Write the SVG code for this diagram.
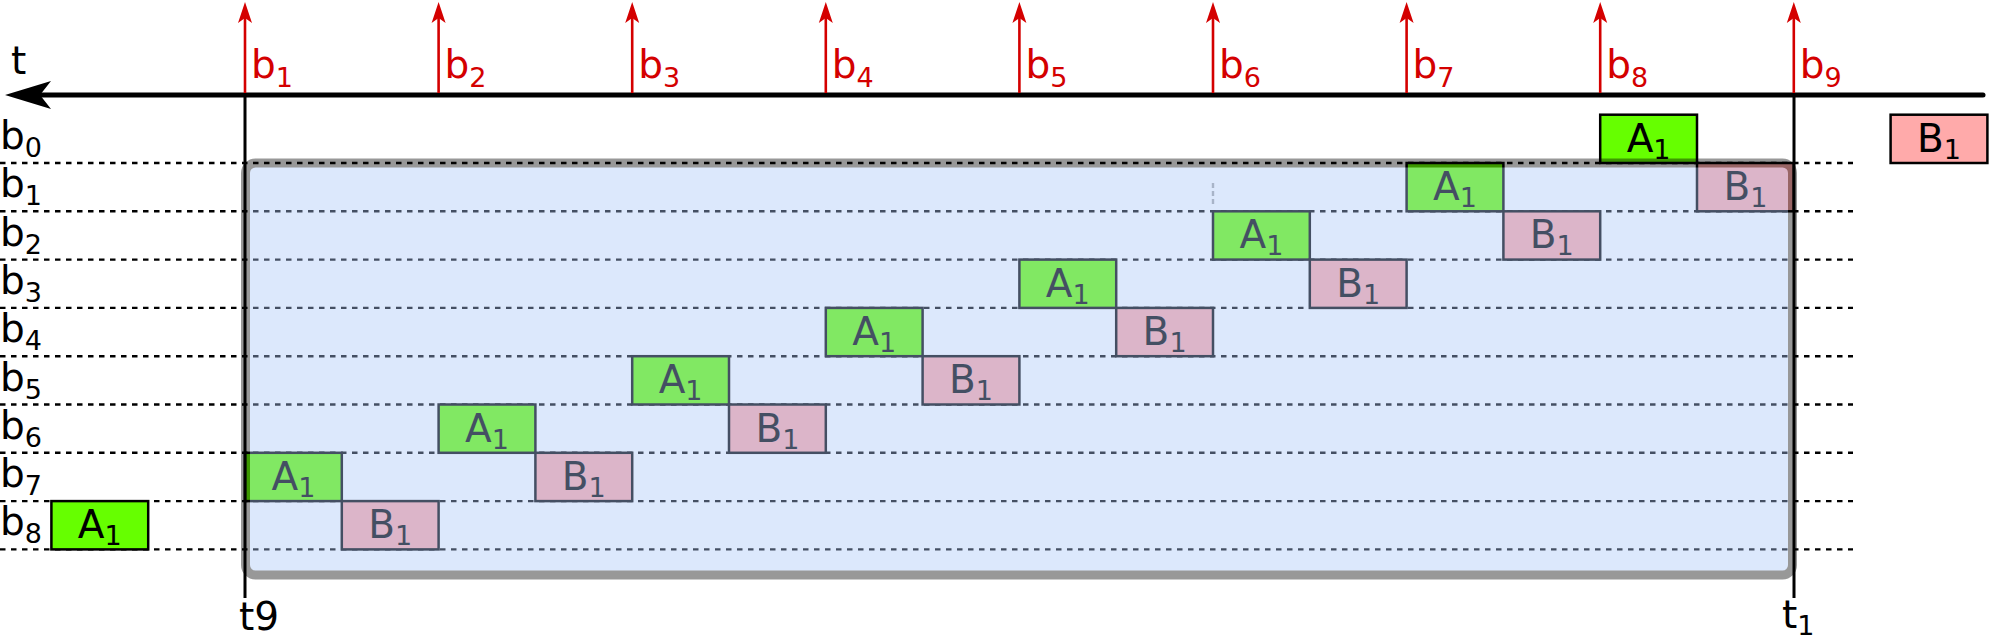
<svg xmlns="http://www.w3.org/2000/svg" width="1993" height="641" viewBox="0 0 1993 641">
<defs>
<style>
text{font-family:"DejaVu Sans","Liberation Sans",sans-serif;font-size:39px;fill:#000}
.sub{font-size:27px}
.red{fill:#d40000}
.grid{stroke:#000;stroke-width:2.4;stroke-dasharray:5.5,5.5;fill:none}
.a{fill:#66ff00;stroke:#000;stroke-width:2.5}
.b{fill:#ffaaaa;stroke:#000;stroke-width:2.5}
.bt{text-anchor:middle}
.tick{stroke:#d40000;stroke-width:2.6;fill:none}
</style>
<marker id="redhead" viewBox="0 0 22 16" refX="11" refY="8" markerWidth="22" markerHeight="16" markerUnits="userSpaceOnUse" orient="auto">
<path d="M21,8 L0,1 L5,8 L0,15 Z" fill="#d40000"/>
</marker>
</defs>
<rect width="1993" height="641" fill="#fff"/>

<g id="grid-lines">
<line class="grid" x1="0" y1="163" x2="1853" y2="163"/>
<line class="grid" x1="0" y1="211.3" x2="1853" y2="211.3"/>
<line class="grid" x1="0" y1="259.6" x2="1853" y2="259.6"/>
<line class="grid" x1="0" y1="307.9" x2="1853" y2="307.9"/>
<line class="grid" x1="0" y1="356.2" x2="1853" y2="356.2"/>
<line class="grid" x1="0" y1="404.5" x2="1853" y2="404.5"/>
<line class="grid" x1="0" y1="452.8" x2="1853" y2="452.8"/>
<line class="grid" x1="0" y1="501.1" x2="1853" y2="501.1"/>
<line class="grid" x1="0" y1="549.4" x2="1853" y2="549.4"/>
<line x1="1213" y1="183" x2="1213" y2="207" stroke="#a8a8a8" stroke-width="2.4" stroke-dasharray="5,3"/>
</g>

<g id="row-labels">
<text x="0" y="149">b<tspan class="sub" dy="8">0</tspan></text>
<text x="0" y="197.3">b<tspan class="sub" dy="8">1</tspan></text>
<text x="0" y="245.6">b<tspan class="sub" dy="8">2</tspan></text>
<text x="0" y="293.9">b<tspan class="sub" dy="8">3</tspan></text>
<text x="0" y="342.2">b<tspan class="sub" dy="8">4</tspan></text>
<text x="0" y="390.5">b<tspan class="sub" dy="8">5</tspan></text>
<text x="0" y="438.8">b<tspan class="sub" dy="8">6</tspan></text>
<text x="0" y="487.1">b<tspan class="sub" dy="8">7</tspan></text>
<text x="0" y="535.4">b<tspan class="sub" dy="8">8</tspan></text>
</g>

<g id="A1-row0"><rect class="a" x="1600.2" y="114.7" width="96.8" height="48.3"/><text class="bt" x="1648.6" y="151.8">A<tspan class="sub" dy="7">1</tspan></text></g>
<g id="A1-row1"><rect class="a" x="1406.6" y="163" width="96.8" height="48.3"/><text class="bt" x="1455" y="200.1">A<tspan class="sub" dy="7">1</tspan></text></g>
<g id="A1-row2"><rect class="a" x="1213" y="211.3" width="96.8" height="48.3"/><text class="bt" x="1261.4" y="248.4">A<tspan class="sub" dy="7">1</tspan></text></g>
<g id="A1-row3"><rect class="a" x="1019.4" y="259.6" width="96.8" height="48.3"/><text class="bt" x="1067.8" y="296.7">A<tspan class="sub" dy="7">1</tspan></text></g>
<g id="A1-row4"><rect class="a" x="825.8" y="307.9" width="96.8" height="48.3"/><text class="bt" x="874.2" y="345">A<tspan class="sub" dy="7">1</tspan></text></g>
<g id="A1-row5"><rect class="a" x="632.2" y="356.2" width="96.8" height="48.3"/><text class="bt" x="680.6" y="393.3">A<tspan class="sub" dy="7">1</tspan></text></g>
<g id="A1-row6"><rect class="a" x="438.6" y="404.5" width="96.8" height="48.3"/><text class="bt" x="487" y="441.6">A<tspan class="sub" dy="7">1</tspan></text></g>
<g id="A1-row7"><rect class="a" x="245" y="452.8" width="96.8" height="48.3"/><text class="bt" x="293.4" y="489.9">A<tspan class="sub" dy="7">1</tspan></text></g>
<g id="A1-row8"><rect class="a" x="51.4" y="501.1" width="96.8" height="48.3"/><text class="bt" x="99.8" y="538.2">A<tspan class="sub" dy="7">1</tspan></text></g>

<g id="B1-row0"><rect class="b" x="1890.6" y="114.7" width="96.8" height="48.3"/><text class="bt" x="1939" y="151.8">B<tspan class="sub" dy="7">1</tspan></text></g>
<g id="B1-row1"><rect class="b" x="1697" y="163" width="96.8" height="48.3"/><text class="bt" x="1745.4" y="200.1">B<tspan class="sub" dy="7">1</tspan></text></g>
<g id="B1-row2"><rect class="b" x="1503.4" y="211.3" width="96.8" height="48.3"/><text class="bt" x="1551.8" y="248.4">B<tspan class="sub" dy="7">1</tspan></text></g>
<g id="B1-row3"><rect class="b" x="1309.8" y="259.6" width="96.8" height="48.3"/><text class="bt" x="1358.2" y="296.7">B<tspan class="sub" dy="7">1</tspan></text></g>
<g id="B1-row4"><rect class="b" x="1116.2" y="307.9" width="96.8" height="48.3"/><text class="bt" x="1164.6" y="345">B<tspan class="sub" dy="7">1</tspan></text></g>
<g id="B1-row5"><rect class="b" x="922.6" y="356.2" width="96.8" height="48.3"/><text class="bt" x="971" y="393.3">B<tspan class="sub" dy="7">1</tspan></text></g>
<g id="B1-row6"><rect class="b" x="729" y="404.5" width="96.8" height="48.3"/><text class="bt" x="777.4" y="441.6">B<tspan class="sub" dy="7">1</tspan></text></g>
<g id="B1-row7"><rect class="b" x="535.4" y="452.8" width="96.8" height="48.3"/><text class="bt" x="583.8" y="489.9">B<tspan class="sub" dy="7">1</tspan></text></g>
<g id="B1-row8"><rect class="b" x="341.8" y="501.1" width="96.8" height="48.3"/><text class="bt" x="390.2" y="538.2">B<tspan class="sub" dy="7">1</tspan></text></g>

<g id="window-overlay" opacity="0.4">
<rect x="245.5" y="163" width="1547" height="412" rx="10" ry="10" fill="#aac6f8" stroke="#000" stroke-width="9"/>
</g>

<g id="connectors">
<line x1="245" y1="95" x2="245" y2="598" stroke="#000" stroke-width="3"/>
<line x1="1794" y1="95" x2="1794" y2="598" stroke="#000" stroke-width="3"/>
<line x1="38" y1="95" x2="1983" y2="95" stroke="#000" stroke-width="5" stroke-linecap="round"/>
<path d="M5,95 L51,81 L40,95 L51,109 Z" fill="#000"/>
<line class="tick" x1="245" y1="93" x2="245" y2="12" marker-end="url(#redhead)"/>
<line class="tick" x1="438.6" y1="93" x2="438.6" y2="12" marker-end="url(#redhead)"/>
<line class="tick" x1="632.2" y1="93" x2="632.2" y2="12" marker-end="url(#redhead)"/>
<line class="tick" x1="825.8" y1="93" x2="825.8" y2="12" marker-end="url(#redhead)"/>
<line class="tick" x1="1019.4" y1="93" x2="1019.4" y2="12" marker-end="url(#redhead)"/>
<line class="tick" x1="1213" y1="93" x2="1213" y2="12" marker-end="url(#redhead)"/>
<line class="tick" x1="1406.6" y1="93" x2="1406.6" y2="12" marker-end="url(#redhead)"/>
<line class="tick" x1="1600.2" y1="93" x2="1600.2" y2="12" marker-end="url(#redhead)"/>
<line class="tick" x1="1793.8" y1="93" x2="1793.8" y2="12" marker-end="url(#redhead)"/>
</g>

<g id="axis-labels">
<text x="11" y="74">t</text>
<text x="239" y="630">t9</text>
<text x="1782" y="628">t<tspan class="sub" dy="7">1</tspan></text>
<text class="red" x="251" y="78">b<tspan class="sub" dy="9">1</tspan></text>
<text class="red" x="444.6" y="78">b<tspan class="sub" dy="9">2</tspan></text>
<text class="red" x="638.2" y="78">b<tspan class="sub" dy="9">3</tspan></text>
<text class="red" x="831.8" y="78">b<tspan class="sub" dy="9">4</tspan></text>
<text class="red" x="1025.4" y="78">b<tspan class="sub" dy="9">5</tspan></text>
<text class="red" x="1219" y="78">b<tspan class="sub" dy="9">6</tspan></text>
<text class="red" x="1412.6" y="78">b<tspan class="sub" dy="9">7</tspan></text>
<text class="red" x="1606.2" y="78">b<tspan class="sub" dy="9">8</tspan></text>
<text class="red" x="1799.8" y="78">b<tspan class="sub" dy="9">9</tspan></text>
</g>
</svg>
